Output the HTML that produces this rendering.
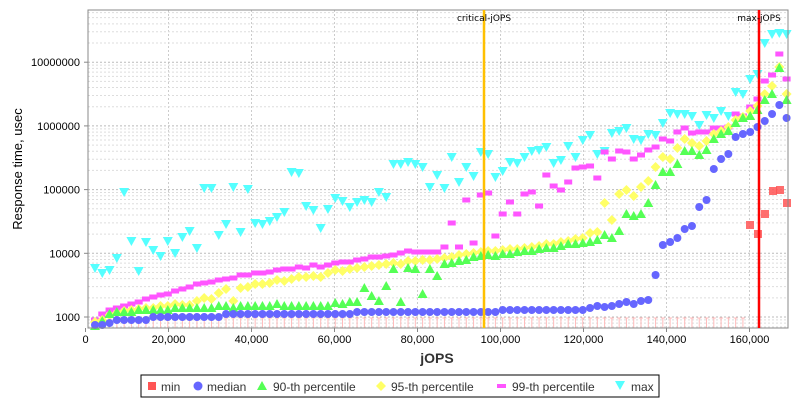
<!DOCTYPE html>
<html><head><meta charset="utf-8">
<style>
html,body{margin:0;padding:0;background:#fff;}
svg{display:block;font-family:"Liberation Sans","DejaVu Sans",sans-serif;}
</style></head>
<body>
<svg id="s" width="800" height="400" xmlns="http://www.w3.org/2000/svg">
<rect x="0" y="0" width="800" height="400" fill="#fff"/>
<g id="grid"></g>
<g id="pts"></g>
<rect x="88" y="10" width="700" height="318" fill="none" stroke="#888" stroke-width="1"/>
<line x1="484" y1="10" x2="484" y2="328" stroke="#ffc000" stroke-width="2.5"/>
<line x1="759" y1="10" x2="759" y2="328" stroke="#ff0000" stroke-width="2.5"/>
<text x="484" y="21" font-size="9" font-family="DejaVu Sans" text-anchor="middle" fill="#000">critical-jOPS</text>
<text x="759" y="21" font-size="9" font-family="DejaVu Sans" text-anchor="middle" fill="#000">max-jOPS</text>
<g id="lab" font-size="11" fill="#000"></g>
<text x="437" y="363" font-size="14" font-weight="bold" text-anchor="middle" fill="#333">jOPS</text>
<text transform="translate(22,169) rotate(-90)" font-size="13" text-anchor="middle" fill="#000">Response time, usec</text>
<rect x="141" y="375" width="518" height="22" fill="#fff" stroke="#000" stroke-width="1"/>
<g font-size="12" fill="#333">
<rect x="148" y="382" width="8" height="8" fill="#f55"/><text x="161" y="391">min</text>
<circle cx="198" cy="386" r="4.5" fill="#66f"/><text x="207" y="391">median</text>
<polygon points="262,381 267,390 257,390" fill="#5f5"/><text x="273" y="391">90-th percentile</text>
<polygon points="381,381 386,386 381,391 376,386" fill="#ff6"/><text x="391" y="391">95-th percentile</text>
<rect x="497" y="384" width="9" height="4" fill="#f5f"/><text x="512" y="391">99-th percentile</text>
<polygon points="615,381 625,381 620,390" fill="#5ff"/><text x="631" y="391">max</text>
</g>
</svg>
<script>
var NS="http://www.w3.org/2000/svg";
function el(p,t,a){var e=document.createElementNS(NS,t);for(var k in a)e.setAttribute(k,a[k]);p.appendChild(e);return e;}
var grid=document.getElementById('grid'),pts=document.getElementById('pts'),lab=document.getElementById('lab');
function X(v){return 85.5+v*0.00415;}
function Y(v){return 317-63.7*(Math.log10(v)-3);}
for(var i=1;i<=8;i++){var x=X(i*20000);if(x<788){el(grid,'line',{x1:x,y1:10,x2:x,y2:328,stroke:'#ccc','stroke-dasharray':'2,2'});}}
for(var i=0;i<=8;i++){var x=X(i*20000);el(lab,'text',{x:x,y:343,'text-anchor':'middle'}).textContent=(i*20000).toLocaleString('en-US');el(grid,'line',{x1:x,y1:328,x2:x,y2:332,stroke:'#888'});}
for(var d=2;d<=7;d++){for(var m=1;m<=9;m++){var y=Y(m*Math.pow(10,d));if(y<10||y>328)continue;el(grid,'line',{x1:88,y1:y,x2:788,y2:y,stroke:m==1?'#bbb':'#ddd','stroke-dasharray':'2,2'});}}
for(var d=3;d<=7;d++){var y=Y(Math.pow(10,d));el(lab,'text',{x:80,y:y+4,'text-anchor':'end'}).textContent=Math.pow(10,d);el(grid,'line',{x1:84,y1:y,x2:88,y2:y,stroke:'#888'});}
function xi(i){return 95+7.28*i;}
function mk(s,x,y,c){if(s=='c')el(pts,'circle',{cx:x,cy:y,r:4,fill:c});
else if(s=='t')el(pts,'polygon',{points:(x)+','+(y-5)+' '+(x+5)+','+(y+4)+' '+(x-5)+','+(y+4),fill:c});
else if(s=='d')el(pts,'polygon',{points:x+','+(y-5)+' '+(x+5)+','+y+' '+x+','+(y+5)+' '+(x-5)+','+y,fill:c});
else if(s=='r')el(pts,'rect',{x:x-4,y:y-2.5,width:8,height:5,fill:c});
else if(s=='v')el(pts,'polygon',{points:(x-5)+','+(y-4)+' '+(x+5)+','+(y-4)+' '+x+','+(y+5),fill:c});}
// min tees
for(var i=0;i<96;i++){var x=xi(i);if(x<746){el(pts,'line',{x1:x,y1:318,x2:x,y2:328,stroke:'#fbb'});el(pts,'line',{x1:x-2,y1:318,x2:x+2,y2:318,stroke:'#fbb'});}}
var mx=[268,273,270,258,192,241,271,242,250,256,241,253,237,231,248,188,188,235,224,187,232,189,223,224,221,217,212,172,173,206,210,228,209,198,201,207,202,200,202,192,197,164,164,162,164,
167,187,175,188,157,182,167,176,152,154,177,171,162,163,157,151,150,147,163,160,146,157,140,135,154,151,133,131,128,139,140,134,135,123,113,114,114,116,125,115,118,111,116,92,94,79,74,43,34,33,34];
var p99=[320,314,310,308,306,304,302,299,297,295,294,291,289,287,284,283,282,280,279,278,275,275,273,273,272,270,269,269,267,268,265,267,265,263,262,262,260,259,257,257,256,255,253,251,252,
252,252,252,247,223,247,200,243,195,193,236,214,202,214,194,192,206,175,186,190,182,168,167,166,178,152,159,151,152,159,155,150,147,139,141,132,128,133,132,132,128,128,127,114,116,107,99,81,75,54,79];
var p95=[322,320,315,313,311,310,309,308,308,306,306,304,305,305,301,298,299,293,289,301,288,287,284,284,283,280,281,279,277,277,276,277,273,270,271,269,268,267,266,265,264,263,264,261,261,
260,260,259,258,257,255,254,253,252,251,251,250,249,249,248,247,246,244,244,242,241,239,238,233,232,203,220,194,190,196,187,181,167,157,159,148,139,143,146,141,134,131,127,120,117,111,106,94,86,67,94];
var p90=[326,321,314,312,312,312,310,310,310,310,310,308,308,308,308,308,308,306,306,308,306,306,306,306,306,304,306,306,306,306,306,306,306,303,304,302,302,288,296,301,286,269,302,268,269,
294,269,276,264,263,261,260,257,256,255,256,254,254,252,251,251,249,248,248,246,244,244,243,242,240,235,238,231,214,216,214,203,185,172,172,164,151,151,155,150,139,134,131,123,118,116,110,100,94,68,100];
var med=[];for(var i=0;i<45;i++){med.push(i<2?325:i<3?323:i<8?320:i<18?317:i<36?314:312);}
med=med.concat([312,312,312,312,312,312,312,312,312,312,312,310,310,310,310,310,310,310,310,310,310,310,310,308,306,307,306,304,302,304,301,300,
275,245,242,238,229,226,207,200,169,159,154,137,134,132,127,121,114,105,118]);
function ser(a,s,c){for(var i=0;i<a.length;i++)mk(s,xi(i),a[i],c);}
ser(mx,'v','#5ff');ser(p99,'r','#f5f');ser(p95,'d','#ff6');ser(p90,'t','#5f5');ser(med,'c','#66f');
[[750,225],[758,234],[765,214],[773,191],[780,190],[787,203]].forEach(function(p){el(pts,'rect',{x:p[0]-4,y:p[1]-4,width:8,height:8,fill:'#f55',opacity:0.85});});
</script>
</body></html>
